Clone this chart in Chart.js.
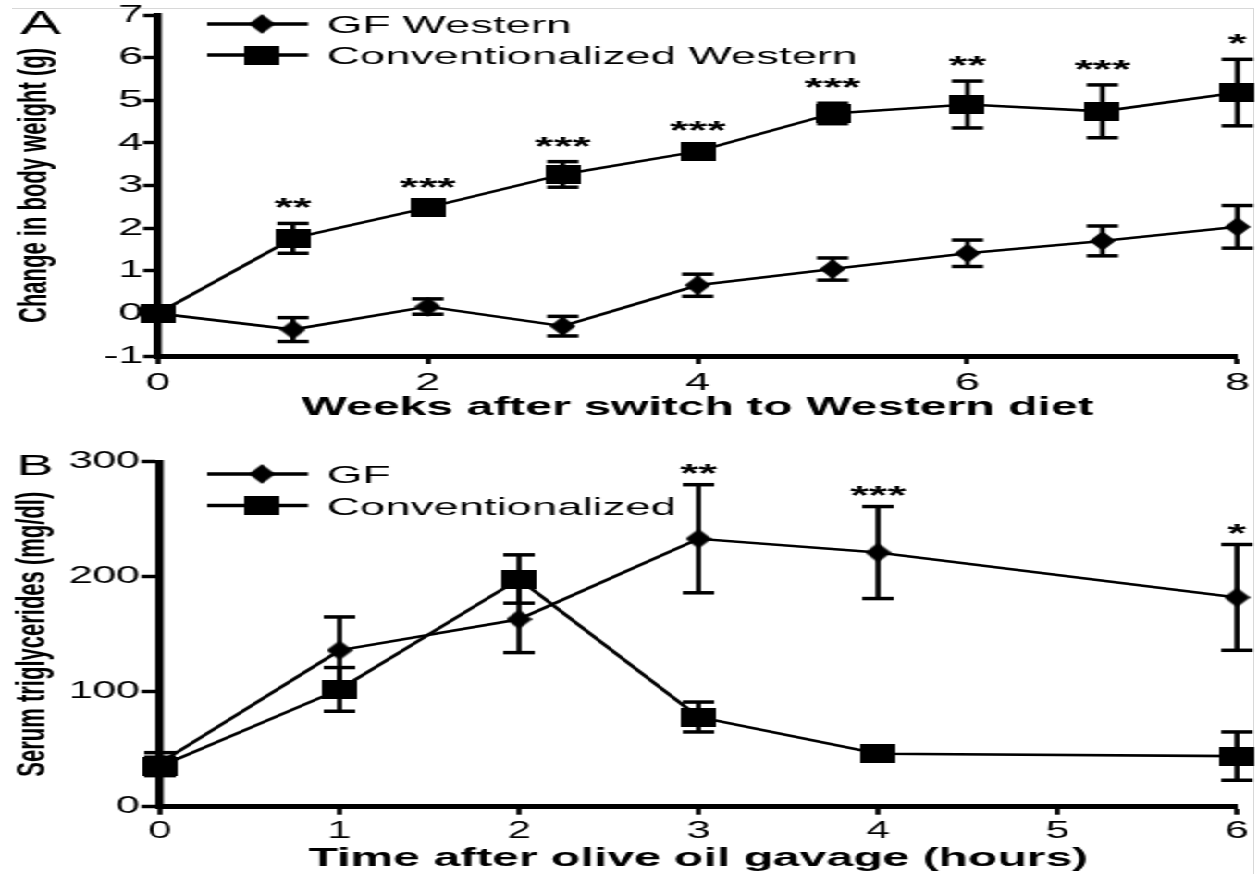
<!DOCTYPE html>
<html><head><meta charset="utf-8">
<script src="https://cdn.jsdelivr.net/npm/chart.js@4/dist/chart.umd.min.js"></script>
<style>
html,body{margin:0;padding:0;background:#fff;overflow:hidden;width:1258px;height:874px;}
#wrap{position:absolute;left:0;top:0;width:680px;height:874px;transform:scaleX(1.85);transform-origin:0 0;}
.panel{position:absolute;left:0;width:680px;}
#pa{top:0;height:430px;}
#pb{top:430px;height:444px;}
#topline{position:absolute;left:12px;top:8px;width:1241px;height:1px;background:#d8d8d8;}
#rightline{position:absolute;left:1253px;top:8px;width:1px;height:866px;background:#d8d8d8;}
</style></head><body>
<div id="topline"></div><div id="rightline"></div>
<div id="wrap">
<div class="panel" id="pa"><canvas id="ca"></canvas></div>
<div class="panel" id="pb"><canvas id="cb"></canvas></div>
</div>
<script>
// ---- Panel A data ----
const weeks = [0, 1, 2, 3, 4, 5, 6, 7, 8];
const weekTicks = [0, 2, 4, 6, 8];
const gfWesternMean = [0, -0.38, 0.16, -0.30, 0.66, 1.04, 1.41, 1.70, 2.03];
const gfWesternSem  = [0, 0.28, 0.18, 0.23, 0.26, 0.26, 0.31, 0.35, 0.50];
const convWesternMean = [0, 1.76, 2.48, 3.26, 3.80, 4.69, 4.90, 4.74, 5.18];
const convWesternSem  = [0, 0.35, 0.12, 0.30, 0.12, 0.24, 0.55, 0.62, 0.78];
const weekStars = ['', '**', '***', '***', '***', '***', '**', '***', '*'];
const weightTicks = [-1, 0, 1, 2, 3, 4, 5, 6, 7];

// ---- Panel B data ----
const hours = [0, 1, 2, 3, 4, 6];
const hourTicks = [0, 1, 2, 3, 4, 5, 6];
const gfMean = [38, 136, 163, 233, 221, 182];
const gfSem  = [9, 29, 29, 47, 40, 46];
const convMean = [35, 102, 198, 78, 46, 44];
const convSem  = [8, 19, 21, 13, 4, 21];
const hourStars = ['', '', '', '**', '***', '*'];
const tgTicks = [0, 100, 200, 300];

Chart.defaults.font.family = "'Liberation Sans', Arial, sans-serif";
Chart.defaults.color = '#000';

function makeDiamond(){
  const c = document.createElement('canvas'); c.width = 14; c.height = 20;
  const g = c.getContext('2d'); g.fillStyle = '#000';
  g.beginPath(); g.moveTo(7,0); g.lineTo(14,10); g.lineTo(7,20); g.lineTo(0,10); g.closePath(); g.fill();
  return c;
}
function makeSquare(){
  const c = document.createElement('canvas'); c.width = 19; c.height = 19;
  const g = c.getContext('2d'); g.fillStyle = '#000'; g.fillRect(0,0,19,19);
  return c;
}
const DIAMOND = makeDiamond(), SQUARE = makeSquare();

function pts(xs, ys){ return xs.map((x,i)=>({x:x, y:ys[i]})); }

function centerText(ctx, text, cx, cy){
  const m = ctx.measureText(text);
  const base = cy + (m.actualBoundingBoxAscent - m.actualBoundingBoxDescent)/2;
  ctx.fillText(text, cx, base);
}

const decor = {
  id: 'decor',
  afterDatasetsDraw(chart, args, o){
    const ctx = chart.ctx, xs = chart.scales.x, ys = chart.scales.y;
    ctx.save();
    ctx.strokeStyle = '#000'; ctx.fillStyle = '#000';
    const line = (x1,y1,x2,y2)=>{ctx.beginPath();ctx.moveTo(x1,y1);ctx.lineTo(x2,y2);ctx.stroke();};
    // error bars
    chart.data.datasets.forEach(ds=>{
      ds.data.forEach((p,i)=>{
        const e = ds.errors[i]; if (!e) return;
        const x = xs.getPixelForValue(p.x);
        const yt = ys.getPixelForValue(p.y + e), yb = ys.getPixelForValue(p.y - e);
        ctx.lineWidth = o.stemWidth; line(x, yt, x, yb);
        ctx.lineWidth = o.capWidth;
        line(x - o.capHalf, yt, x + o.capHalf, yt);
        line(x - o.capHalf, yb, x + o.capHalf, yb);
      });
    });
    // significance stars
    ctx.font = o.starFont; ctx.textAlign = 'center';
    o.stars.forEach((s,i)=>{
      if (!s) return;
      let top = -Infinity, xv = null;
      chart.data.datasets.forEach(ds=>{
        const p = ds.data[i]; xv = p.x;
        top = Math.max(top, p.y + (ds.errors[i]||0));
      });
      const x = xs.getPixelForValue(xv), y = ys.getPixelForValue(top) - o.starGap;
      centerText(ctx, s, x, y);
    });
    // legend
    ctx.font = o.legendFont; ctx.textAlign = 'left';
    o.legend.forEach((it,k)=>{
      const img = chart.data.datasets[k].pointStyle;
      ctx.lineWidth = o.legendLine;
      line(o.legendX1, it.y, o.legendX2, it.y);
      ctx.drawImage(img, o.legendMarkX - img.width/2, it.y - img.height/2);
      centerText(ctx, it.text, o.legendTextX, it.y);
    });
    // panel letter
    ctx.font = o.letterFont; ctx.textAlign = 'center';
    centerText(ctx, o.letter, o.letterX, o.letterY);
    ctx.restore();
  }
};

function makeChart(id, cfg){
  return new Chart(document.getElementById(id), {
    type: 'line',
    data: { datasets: [
      { label: cfg.names[0], data: pts(cfg.x, cfg.m1), errors: cfg.e1, pointStyle: DIAMOND,
        borderColor:'#000', backgroundColor:'#000', borderWidth: 2.6, pointRadius: 10, clip: false },
      { label: cfg.names[1], data: pts(cfg.x, cfg.m2), errors: cfg.e2, pointStyle: SQUARE,
        borderColor:'#000', backgroundColor:'#000', borderWidth: 2.6, pointRadius: 10, clip: false }
    ]},
    options: {
      responsive: true, maintainAspectRatio: false, animation: false, devicePixelRatio: 1,
      layout: { autoPadding: false, padding: cfg.padding },
      scales: {
        x: {
          type: 'linear', min: cfg.xTicks[0], max: cfg.xTicks[cfg.xTicks.length-1],
          afterBuildTicks: s => { s.ticks = cfg.xTicks.map(v=>({value:v})); },
          afterFit: s => { s.height = cfg.xHeight; },
          border: { display: true, color:'#000', width: 5 },
          grid: { drawOnChartArea: false, drawTicks: true, tickLength: 8, tickWidth: 2.7, tickColor:'#000' },
          ticks: { font: { size: cfg.tickFont }, padding: cfg.xTickPad, color:'#000', maxRotation: 0 },
          title: { display: true, text: cfg.xTitle, font: { size: 26, weight: 'bold' }, padding: { top: 0, bottom: cfg.xTitlePad }, color:'#000' }
        },
        y: {
          type: 'linear', min: cfg.yTicks[0], max: cfg.yTicks[cfg.yTicks.length-1],
          afterBuildTicks: s => { s.ticks = cfg.yTicks.map(v=>({value:v})); },
          afterFit: s => { s.width = cfg.yWidth; },
          border: { display: true, color:'#000', width: 4.4 },
          grid: { drawOnChartArea: false, drawTicks: true, tickLength: cfg.yTickLen, tickWidth: 3.5, tickColor:'#000' },
          ticks: { font: { size: cfg.tickFont }, padding: cfg.yTickPad, color:'#000' },
          title: { display: true, text: cfg.yTitle, font: { size: 22, weight: 'bold' }, padding: { top: cfg.yTitlePad, bottom: 0 }, color:'#000' }
        }
      },
      plugins: {
        legend: { display: false }, tooltip: { enabled: false },
        decor: cfg.decor
      }
    },
    plugins: [decor]
  });
}

const common = { stemWidth: 2.7, capWidth: 3.5, capHalf: 8.5, starFont: 'bold 26px "Liberation Sans", Arial, sans-serif',
  legendFont: '24.6px "Liberation Sans", Arial, sans-serif', legendLine: 3.3, legendX1: 112, legendX2: 166.5,
  legendMarkX: 141.6, legendTextX: 176.8 };

makeChart('ca', {
  names: ['GF Western', 'Conventionalized Western'],
  x: weeks, m1: gfWesternMean, e1: gfWesternSem, m2: convWesternMean, e2: convWesternSem,
  xTicks: weekTicks, yTicks: weightTicks,
  padding: { left: 0, top: 15, right: 8.6, bottom: 0 },
  xHeight: 74, yWidth: 85.4, tickFont: 24, xTickPad: 4.5, yTickPad: 0, yTickLen: 8,
  xTitle: 'Weeks after switch to Western diet', xTitlePad: 7,
  yTitle: 'Change in body weight (g)', yTitlePad: 6,
  decor: Object.assign({}, common, { stars: weekStars, starGap: 20,
    legend: [{text:'GF Western', y: 24}, {text:'Conventionalized Western', y: 55}],
    letter: 'A', letterFont: '33px "Liberation Sans", Arial, sans-serif', letterX: 22, letterY: 22 })
});

makeChart('cb', {
  names: ['GF', 'Conventionalized'],
  x: hours, m1: gfMean, e1: gfSem, m2: convMean, e2: convSem,
  xTicks: hourTicks, yTicks: tgTicks,
  padding: { left: 0, top: 31.7, right: 11.4, bottom: 0 },
  xHeight: 67.3, yWidth: 86.5, tickFont: 23, xTickPad: 3, yTickPad: 1, yTickLen: 10,
  xTitle: 'Time after olive oil gavage (hours)', xTitlePad: 0,
  yTitle: 'Serum triglycerides (mg/dl)', yTitlePad: 4.7,
  decor: Object.assign({}, common, { stars: hourStars, starGap: 16,
    legend: [{text:'GF', y: 44}, {text:'Conventionalized', y: 75.5}],
    letter: 'B', letterFont: '30px "Liberation Sans", Arial, sans-serif', letterX: 19, letterY: 35 })
});
</script>
</body></html>
